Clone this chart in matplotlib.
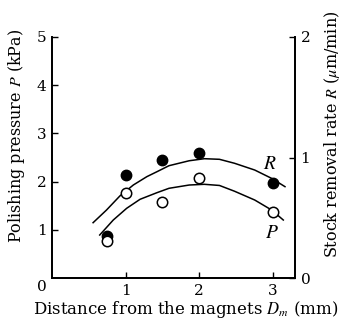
import matplotlib
matplotlib.use("Agg")
import matplotlib.pyplot as plt

plt.rcParams['font.family'] = ['DejaVu Serif']
plt.rcParams['mathtext.fontset'] = 'stix'

# Data
distance = [0.75, 1.0, 1.5, 2.0, 3.0]
pressure_P = [0.77, 1.77, 1.58, 2.07, 1.36]          # kPa (left axis)
removal_R = [0.35, 0.855, 0.98, 1.04, 0.786]         # um/min (right axis)

# Fitted curves
curveP_x = [0.648, 0.832, 1.014, 1.196, 1.425, 1.589, 1.863, 2.068, 2.274, 2.479, 2.753, 2.982, 3.141]
curveP_y = [0.892, 1.203, 1.446, 1.633, 1.770, 1.861, 1.929, 1.944, 1.920, 1.800, 1.618, 1.411, 1.203]
curveR_x = [0.558, 0.740, 0.922, 1.105, 1.288, 1.425, 1.589, 1.863, 2.070, 2.274, 2.479, 2.753, 2.982, 3.164]
curveR_y = [0.459, 0.564, 0.681, 0.772, 0.841, 0.882, 0.932, 0.973, 0.990, 0.985, 0.952, 0.896, 0.827, 0.758]

x_ticks = [1, 2, 3]
p_ticks = [1, 2, 3, 4, 5]
r_ticks = [0, 1, 2]

fig = plt.figure(figsize=(3.41, 3.25), dpi=100)
ax = fig.add_axes([52/341, (325-278)/325, (295-52)/341, (278-37)/325])
ax2 = ax.twinx()

ax.set_xlim(0, 3.3)
ax.set_ylim(0, 5)
ax2.set_ylim(0, 2)

ax.plot(curveP_x, curveP_y, color='black', lw=1.1, zorder=2, solid_joinstyle='round')
ax2.plot(curveR_x, curveR_y, color='black', lw=1.1, zorder=2, solid_joinstyle='round')
ax2.plot(distance, removal_R, 'o', color='black', ms=7.5, zorder=3)
ax.plot(distance, pressure_P, 'o', mfc='white', mec='black', mew=1.1, ms=7.5, zorder=4)
ax.set_zorder(2)
ax.patch.set_visible(False)

for a in (ax, ax2):
    for s in a.spines.values():
        s.set_linewidth(1.3)
    a.spines['top'].set_visible(False)

ax.set_xticks(x_ticks)
ax.set_yticks(p_ticks)
ax2.set_yticks(r_ticks)
ax.tick_params(direction='in', length=4, width=1, labelsize=11, pad=4)
ax2.tick_params(direction='in', length=4, width=1, labelsize=11, pad=4)
ax.text((42-52)/243, (278-287)/241, '0', transform=ax.transAxes, ha='center', va='center', fontsize=11)

ax.set_xlabel('Distance from the magnets $D_m$ (mm)', fontsize=12)
ax.set_ylabel('Polishing pressure $P$ (kPa)', fontsize=11.5)
ax2.set_ylabel('Stock removal rate $R$ ($\\mu$m/min)', fontsize=11.5)
ax.xaxis.set_label_coords((186-52)/243, (278-310)/241)
ax.xaxis.label.set_verticalalignment('center')
ax.yaxis.set_label_coords((17-52)/243, (278-136)/241)
ax.yaxis.label.set_verticalalignment('center')
ax2.yaxis.set_label_coords((332-52)/243, (278-134)/241)
ax2.yaxis.label.set_verticalalignment('center')

ax2.text(2.96, 0.95, '$R$', fontsize=14, ha='center', va='center')
ax2.text(2.98, 0.37, '$P$', fontsize=14, ha='center', va='center')

fig.savefig('out.png', dpi=100)
